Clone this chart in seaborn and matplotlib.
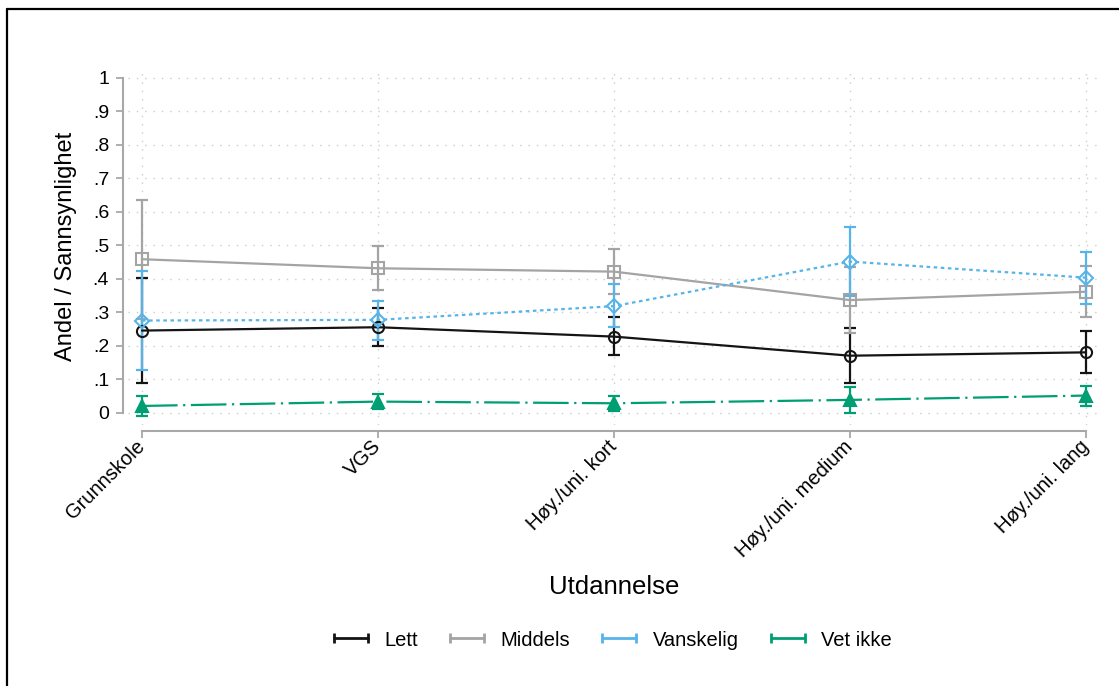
import numpy as np
import pandas as pd
import matplotlib
matplotlib.use("Agg")
import matplotlib.pyplot as plt
from matplotlib.lines import Line2D
import seaborn as sns

# Education levels on the x axis
categories = ["Grunnskole", "VGS", "Høy./uni. kort", "Høy./uni. medium", "Høy./uni. lang"]

# Predicted shares with 95% confidence limits per answer category
lett = [0.246, 0.256, 0.228, 0.171, 0.181]
lett_lo = [0.090, 0.201, 0.173, 0.089, 0.120]
lett_hi = [0.404, 0.312, 0.286, 0.253, 0.245]

middels = [0.459, 0.432, 0.422, 0.337, 0.362]
middels_lo = [0.280, 0.367, 0.355, 0.239, 0.286]
middels_hi = [0.636, 0.499, 0.490, 0.435, 0.439]

vanskelig = [0.276, 0.278, 0.319, 0.452, 0.404]
vanskelig_lo = [0.128, 0.218, 0.256, 0.350, 0.324]
vanskelig_hi = [0.423, 0.334, 0.385, 0.554, 0.481]

vet_ikke = [0.021, 0.034, 0.029, 0.039, 0.052]
vet_ikke_lo = [-0.009, 0.012, 0.006, 0.001, 0.022]
vet_ikke_hi = [0.051, 0.056, 0.052, 0.079, 0.081]

y_ticks = [0, 0.1, 0.2, 0.3, 0.4, 0.5, 0.6, 0.7, 0.8, 0.9, 1.0]
y_ticklabels = ["0", ".1", ".2", ".3", ".4", ".5", ".6", ".7", ".8", ".9", "1"]

series = [
    ("Lett", lett, lett_lo, lett_hi, "#141414", "o", "-", "none"),
    ("Middels", middels, middels_lo, middels_hi, "#a4a4a4", "s", "-", "none"),
    ("Vanskelig", vanskelig, vanskelig_lo, vanskelig_hi, "#56b4e9", "D", (0, (1.6, 1.6)), "none"),
    ("Vet ikke", vet_ikke, vet_ikke_lo, vet_ikke_hi, "#009e73", "^", (0, (16, 2.5, 1, 2.5)), None),
]

sns.set_theme(style="white")
plt.rcParams["font.family"] = ["Liberation Sans", "DejaVu Sans"]
plt.rcParams["text.color"] = "black"
plt.rcParams["axes.labelcolor"] = "black"
plt.rcParams["xtick.color"] = "black"
plt.rcParams["ytick.color"] = "black"

fig = plt.figure(figsize=(11.19, 6.86), dpi=100)
ax = fig.add_axes([0.1144, 0.3805, 0.8686, 0.5204])

x = np.arange(len(categories))

# grid
for v in y_ticks:
    ax.axhline(v, color="#cccccc", lw=1.0, ls=(0, (1, 5)), zorder=0)
for v in x:
    ax.axvline(v, color="#cccccc", lw=1.0, ls=(0, (1, 5)), zorder=0)

# confidence intervals first, then the lines on top
for name, vals, lo, hi, col, mk, ls, fill in series:
    vals = np.asarray(vals)
    yerr = np.vstack([vals - np.asarray(lo), np.asarray(hi) - vals])
    ax.errorbar(x, vals, yerr=yerr, fmt="none", ecolor=col, elinewidth=1.6,
                capsize=4.5, capthick=1.6, zorder=2)

for name, vals, lo, hi, col, mk, ls, fill in series:
    df = pd.DataFrame({"x": x, "y": vals})
    kw = dict(mfc="none") if fill == "none" else dict(mfc=col)
    sns.lineplot(data=df, x="x", y="y", ax=ax, color=col, linestyle=ls, lw=1.6,
                 marker=mk, markersize=8 if mk != "D" else 7.5, mec=col, mew=1.5,
                 sort=False, errorbar=None, zorder=3, **kw)

ax.set_xlim(-0.0593, 4.0593)
ax.set_ylim(-0.0358, 1.0299)

for s in ["top", "right"]:
    ax.spines[s].set_visible(False)
ax.spines["left"].set_position(("outward", 3.6))
ax.spines["bottom"].set_position(("outward", 4.3))
ax.spines["left"].set_bounds(0, 1)
ax.spines["bottom"].set_bounds(0, 4)
for s in ["left", "bottom"]:
    ax.spines[s].set_color("#a8a8a8")
    ax.spines[s].set_linewidth(1.5)

ax.set_yticks(y_ticks)
ax.set_yticklabels(y_ticklabels, fontsize=14)
ax.set_xticks(x)
ax.set_xticklabels(categories, fontsize=14.5, rotation=45, ha="right", va="center",
                   rotation_mode="anchor")
ax.tick_params(axis="both", which="major", direction="out", color="#a8a8a8",
               width=1.3, length=5, left=True, bottom=True, labelcolor="black")
ax.tick_params(axis="y", pad=5)
ax.tick_params(axis="x", pad=4)

ax.set_ylabel("Andel / Sannsynlighet", fontsize=17, labelpad=11)
ax.set_xlabel("Utdannelse", fontsize=18.5, labelpad=10)

handles = [Line2D([], [], color=col, lw=2, marker="|", markersize=7, mew=2)
           for name, vals, lo, hi, col, mk, ls, fill in series]
labels = [s[0] for s in series]
fig.legend(handles, labels, loc="center", bbox_to_anchor=(0.545, 0.067), ncol=4,
           frameon=False, fontsize=14.5, numpoints=2, handlelength=2.3,
           handletextpad=0.5, columnspacing=1.3)

# frame along the top and left edge of the figure
fig.add_artist(Line2D([7 / 1119, 7 / 1119], [0, 1 - 9 / 686], transform=fig.transFigure,
                      color="black", lw=1.6))
fig.add_artist(Line2D([7 / 1119, 1], [1 - 9 / 686, 1 - 9 / 686], transform=fig.transFigure,
                      color="black", lw=1.6))

fig.savefig("out.png", dpi=100)
